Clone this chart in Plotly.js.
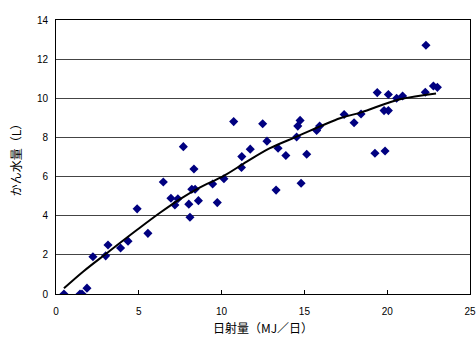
<!DOCTYPE html>
<html><head><meta charset="utf-8">
<script src="https://cdn.plot.ly/plotly-3.0.1.min.js"></script>
<style>html,body{margin:0;padding:0;background:#fff}</style>
</head><body><div id="chart" style="width:476px;height:344px"></div>
<script>
var radiation = [0.48,1.45,1.57,1.87,2.23,3.0,3.14,3.9,4.35,4.9,5.55,6.48,6.94,7.18,7.36,7.69,8.02,8.09,8.2,8.4,8.33,8.6,9.46,9.74,10.14,10.73,11.22,11.2,11.73,12.48,12.74,13.41,13.88,13.29,14.53,14.6,14.74,15.14,14.8,15.74,15.92,17.4,18.0,18.42,19.4,20.07,20.57,20.93,22.3,22.79,23.03,19.81,20.07,19.26,19.87,22.34];
var water = [0,0,0,0.3,1.9,1.95,2.5,2.35,2.7,4.35,3.1,5.72,4.89,4.55,4.87,7.53,4.59,3.92,5.35,5.35,6.39,4.77,5.62,4.67,5.89,8.81,7.02,6.46,7.4,8.7,7.81,7.45,7.08,5.31,8.02,8.58,8.87,7.14,5.66,8.36,8.58,9.17,8.75,9.2,10.29,10.19,10.0,10.12,10.31,10.63,10.56,9.37,9.37,7.19,7.31,12.71];
var curveX = [0.48,1.65,3.06,4.9,6.28,7.49,8.7,10.1,11.52,12.92,14.53,17.15,18.42,20.77,22.95];
var curveY = [0.29,1.15,2.08,3.28,4.15,4.85,5.45,6.02,6.76,7.45,8.04,8.98,9.28,9.95,10.25];
var xTicks = [0,5,10,15,20,25];
var yTicks = [0,2,4,6,8,10,12,14];

var data = [
  {x: radiation, y: water, mode: 'markers', type: 'scatter',
   marker: {symbol: 'diamond', color: '#000080', size: 7}, hoverinfo: 'none'},
  {x: curveX, y: curveY, mode: 'lines', type: 'scatter',
   line: {color: '#000', width: 2, shape: 'spline', smoothing: 1}, hoverinfo: 'none'}
];
var layout = {
  width: 476, height: 344,
  margin: {l: 56, r: 6, t: 20, b: 50},
  paper_bgcolor: '#fff', plot_bgcolor: '#fff',
  showlegend: false,
  font: {family: 'Liberation Sans, Arial, sans-serif', size: 10, color: '#000'},
  xaxis: {range: [0, 25], tickvals: xTicks, ticks: 'inside', ticklen: 4, tickcolor: '#000',
    ticklabelstandoff: 8,
    showgrid: false, zeroline: false, showline: true, linecolor: '#000', linewidth: 1, mirror: true,
    title: {text: '日射量（MJ／日）', font: {family: 'Noto Sans CJK JP', size: 12}, standoff: 8}},
  yaxis: {range: [0, 14], tickvals: yTicks, ticks: '', showgrid: true, gridcolor: '#444', gridwidth: 1,
    ticklabelstandoff: 5,
    zeroline: false, showline: true, linecolor: '#000', linewidth: 1, mirror: true,
    title: {text: 'かん水量（L）', font: {family: 'Noto Sans CJK JP', size: 12}, standoff: 12}}
};
Plotly.newPlot('chart', data, layout, {staticPlot: true, displayModeBar: false});
</script></body></html>
